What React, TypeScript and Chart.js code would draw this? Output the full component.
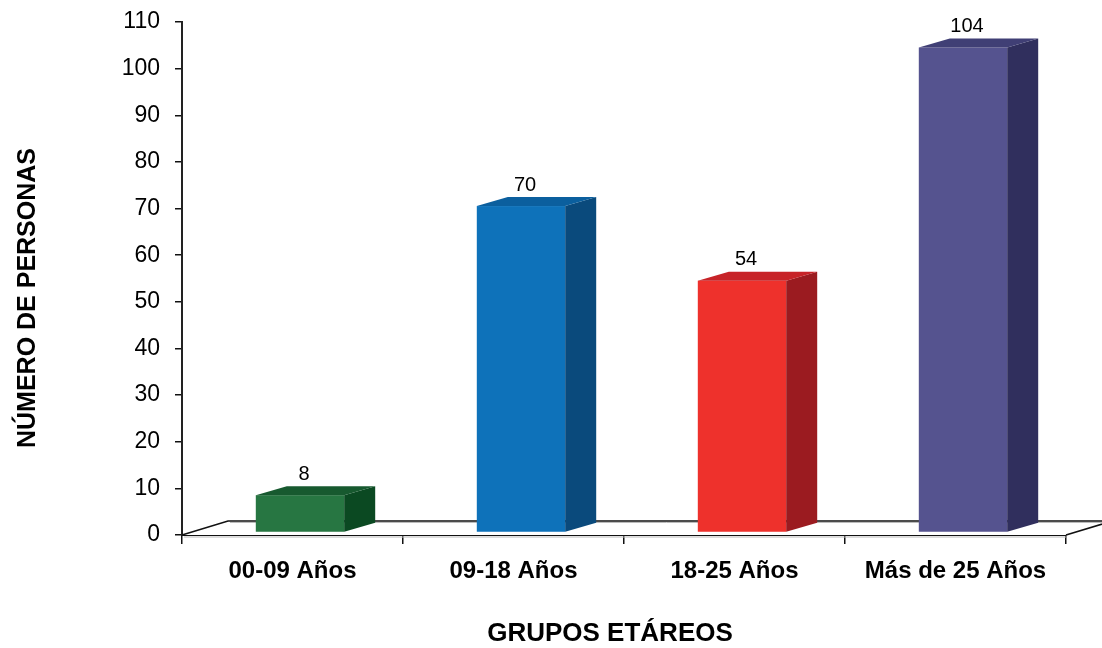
import React, { useEffect, useRef } from "react";
import { Chart, registerables } from "chart.js";

Chart.register(...registerables);

const categories = ["00-09 Años", "09-18 Años", "18-25 Años", "Más de 25 Años"];
const values = [8, 70, 54, 104];
const yMin = 0;
const yMax = 110;
const yStep = 10;
const frontColors = ["#277642", "#0e72ba", "#ee312c", "#55538f"];
const sideColors = ["#0b4922", "#0a4a7c", "#9b1b20", "#302f5d"];
const topColors = ["#17592f", "#0b5f9e", "#c72328", "#403f75"];
const yTitle = "NÚMERO DE PERSONAS";
const xTitle = "GRUPOS ETÁREOS";

const FONT = "'Liberation Sans', Arial, sans-serif";
const FLOOR_DX = 46;
const FLOOR_DY = 14;
const BAR_DX = 31;
const BAR_DY = 9;

const threeDPlugin = {
  id: "threeD",
  beforeDatasetsDraw(chart: any) {
    const { ctx, chartArea } = chart;
    const { left, right, bottom } = chartArea;
    ctx.save();
    ctx.beginPath();
    ctx.moveTo(left, bottom);
    ctx.lineTo(left + FLOOR_DX, bottom - FLOOR_DY);
    ctx.lineTo(right + FLOOR_DX, bottom - FLOOR_DY);
    ctx.lineTo(right, bottom);
    ctx.closePath();
    ctx.fillStyle = "#ffffff";
    ctx.fill();
    ctx.strokeStyle = "#111111";
    ctx.lineWidth = 1.6;
    ctx.beginPath();
    ctx.moveTo(left, bottom);
    ctx.lineTo(left + FLOOR_DX, bottom - FLOOR_DY);
    ctx.lineTo(right + FLOOR_DX, bottom - FLOOR_DY);
    ctx.moveTo(right, bottom);
    ctx.lineTo(right + FLOOR_DX, bottom - FLOOR_DY);
    ctx.stroke();
    ctx.strokeStyle = "#bbbbbb";
    ctx.lineWidth = 1;
    ctx.beginPath();
    ctx.moveTo(left + FLOOR_DX + 2, bottom - FLOOR_DY + 1.5);
    ctx.lineTo(right + FLOOR_DX, bottom - FLOOR_DY + 1.5);
    ctx.moveTo(left + 2, bottom + 2);
    ctx.lineTo(right, bottom + 2);
    ctx.stroke();
    ctx.restore();
  },
  afterDatasetsDraw(chart: any) {
    const { ctx } = chart;
    const meta = chart.getDatasetMeta(0);
    const ox = (FLOOR_DX - BAR_DX) / 2;
    const oy = (FLOOR_DY - BAR_DY) / 2;
    ctx.save();
    meta.data.forEach((el: any, i: number) => {
      const { x, y, base, width } = el.getProps(["x", "y", "base", "width"], true);
      const x0 = x - width / 2 + ox;
      const x1 = x0 + width;
      const top = y - oy;
      const bot = base - oy;
      ctx.fillStyle = frontColors[i];
      ctx.fillRect(x0, top, width, bot - top);
      ctx.fillStyle = sideColors[i];
      ctx.beginPath();
      ctx.moveTo(x1, bot);
      ctx.lineTo(x1 + BAR_DX, bot - BAR_DY);
      ctx.lineTo(x1 + BAR_DX, top - BAR_DY);
      ctx.lineTo(x1, top);
      ctx.closePath();
      ctx.fill();
      ctx.fillStyle = topColors[i];
      ctx.beginPath();
      ctx.moveTo(x0, top);
      ctx.lineTo(x0 + BAR_DX, top - BAR_DY);
      ctx.lineTo(x1 + BAR_DX, top - BAR_DY);
      ctx.lineTo(x1, top);
      ctx.closePath();
      ctx.fill();
      ctx.fillStyle = "#000000";
      ctx.font = `20px ${FONT}`;
      ctx.textAlign = "center";
      ctx.textBaseline = "middle";
      ctx.fillText(String(values[i]), x0 + width / 2 + 4, top - BAR_DY - 12);
    });
    ctx.restore();
  },
  afterDraw(chart: any) {
    const { ctx } = chart;
    ctx.save();
    ctx.fillStyle = "#000000";
    ctx.textAlign = "center";
    ctx.textBaseline = "middle";
    ctx.font = `bold 26px ${FONT}`;
    ctx.fillText(xTitle, 610, 634);
    ctx.translate(28, 298);
    ctx.rotate(-Math.PI / 2);
    ctx.font = `bold 25px ${FONT}`;
    ctx.fillText(yTitle, 0, 0);
    ctx.restore();
  },
};

export default function App() {
  const ref = useRef<HTMLCanvasElement | null>(null);
  useEffect(() => {
    if (!ref.current) return;
    const chart = new Chart(ref.current, {
      type: "bar",
      data: {
        labels: categories,
        datasets: [
          {
            data: values,
            backgroundColor: "rgba(0,0,0,0)",
            borderWidth: 0,
            barPercentage: 0.4,
            categoryPercentage: 1,
          },
        ],
      },
      options: {
        responsive: false,
        animation: false,
        devicePixelRatio: 1,
        layout: { padding: { left: 0, top: 22, right: 36, bottom: 0 } },
        plugins: {
          legend: { display: false },
          tooltip: { enabled: false },
          title: { display: false },
        },
        scales: {
          x: {
            afterFit: (s: any) => {
              s.height = 113;
              s.paddingLeft = 0;
              s.paddingRight = 0;
              s.paddingTop = 0;
              s.paddingBottom = 0;
            },
            grid: {
              offset: true,
              drawOnChartArea: false,
              drawTicks: true,
              tickLength: 9,
              color: "#111111",
              lineWidth: 1.5,
            },
            border: { display: true, color: "#111111", width: 2 },
            ticks: {
              color: "#000000",
              font: { family: FONT, size: 24, weight: "bold" },
              padding: 13,
              maxRotation: 0,
              autoSkip: false,
            },
          },
          y: {
            min: yMin,
            max: yMax,
            afterFit: (s: any) => {
              s.width = 182;
              s.paddingLeft = 0;
              s.paddingRight = 0;
              s.paddingTop = 0;
              s.paddingBottom = 0;
            },
            grid: {
              drawOnChartArea: false,
              drawTicks: true,
              tickLength: 7,
              color: "#111111",
              lineWidth: 1.5,
            },
            border: { display: true, color: "#222222", width: 2 },
            ticks: {
              stepSize: yStep,
              color: "#000000",
              font: { family: FONT, size: 23 },
              padding: 15,
            },
          },
        },
      },
      plugins: [threeDPlugin],
    });
    return () => chart.destroy();
  }, []);
  return (
    <div style={{ position: "absolute", left: 0, top: 0, width: 1102, height: 648, background: "#fff" }}>
      <canvas ref={ref} width={1102} height={648} />
    </div>
  );
}
